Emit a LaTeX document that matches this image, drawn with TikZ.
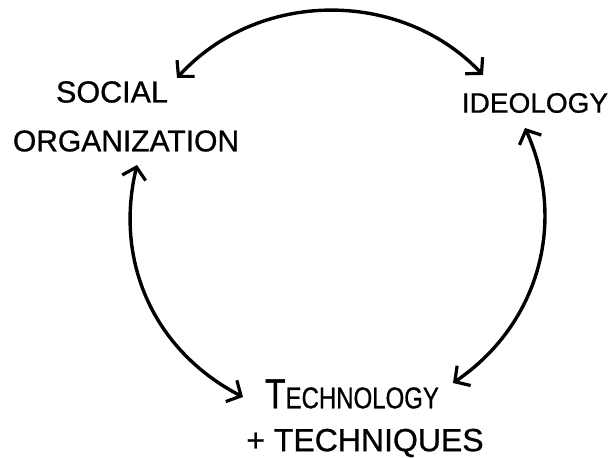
\documentclass[tikz,border=0pt]{standalone}
\usepackage{fontspec}
\newfontfamily\handfont{Liberation Sans}[FakeBold=0.8]
\usetikzlibrary{arrows.meta}
\begin{document}
\begin{tikzpicture}[x=1pt,y=1pt,
  label/.style={inner sep=0pt, anchor=center, text=black, font=\handfont},
  link/.style={line width=3.4pt, line cap=round, line join=round,
    {Straight Barb[length=11pt,width=24pt,line width=3.2pt]}-{Straight Barb[length=11pt,width=24pt,line width=3.2pt]}}]
  \fill[white] (0,0) rectangle (612,457);
  \useasboundingbox (0,0) rectangle (612,457);

  % the three labels
  \node[label] (social) at (112,365) {\fontsize{30.5}{32}\selectfont SOCIAL};
  \node[label] (organization) at (126,316) {\fontsize{30}{32}\selectfont ORGANIZATION};
  \node[label] (ideology) at (535,354) {\fontsize{28}{30}\selectfont IDEOLOGY};
  \node[label] (technology) at (352,63)
    {\scalebox{0.8}[1]{\fontsize{42}{44}\selectfont T\fontsize{30}{32}\selectfont ECHNOLOGY}};
  \node[label] (techniques) at (365,14) {\fontsize{32}{34}\selectfont + TECHNIQUES};

  % arrow ends around the cycle
  \coordinate (a1) at (177,379);
  \coordinate (a2) at (483,382);
  \coordinate (b1) at (525,329);
  \coordinate (b2) at (453,74);
  \coordinate (c1) at (137,292);
  \coordinate (c2) at (243,60);

  % two-way arrows
  \draw[link] (a1) to[bend left=47] (a2);
  \draw[link] (b1) to[bend left=40] (b2);
  \draw[link] (c1) to[bend right=38] (c2);
\end{tikzpicture}
\end{document}
